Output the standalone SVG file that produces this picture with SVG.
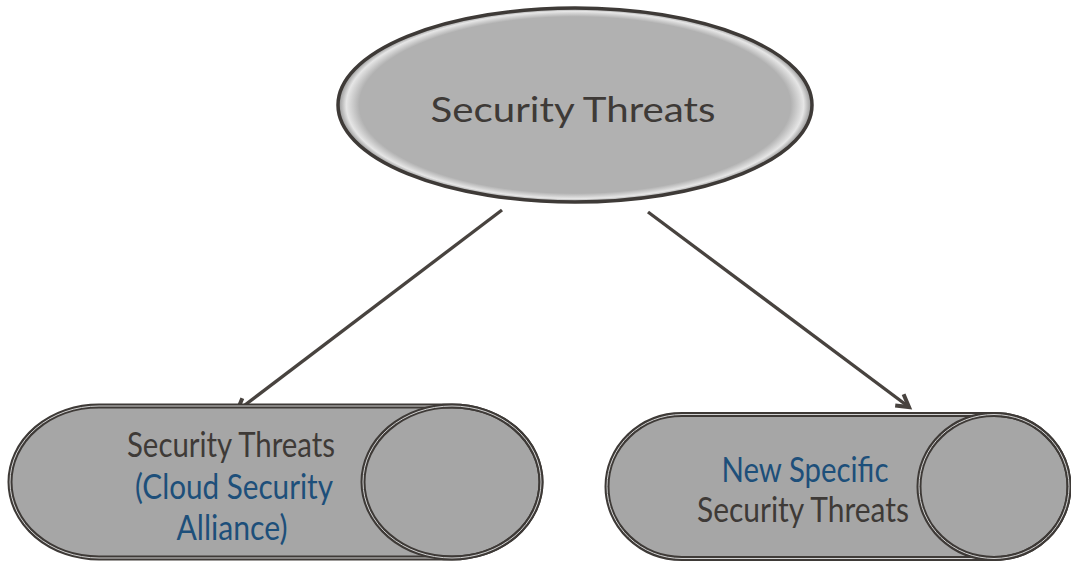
<svg xmlns="http://www.w3.org/2000/svg" width="1071" height="562" viewBox="0 0 1071 562">
  <style>
    .dark { fill: #3e3a37; }
    .blue { fill: #1d4f7a; }
    .t { font-family: Lato, "Open Sans", sans-serif; }
    .cond { font-family: Lato, "Liberation Sans", sans-serif; font-size: 35px; text-anchor: middle; }
    .outer { fill: none; stroke: #3e3a37; stroke-width: 5; }
    .inner { fill: none; stroke: #d2d2d2; stroke-width: 1; }
    .conn { fill: none; stroke: #48433f; stroke-width: 3.3; }
  </style>
  <defs>
    <radialGradient id="bevel" cx="0.5" cy="0.5" r="0.5">
      <stop offset="0" stop-color="#b1b1b1"/>
      <stop offset="0.91" stop-color="#b1b1b1"/>
      <stop offset="0.965" stop-color="#e6e6e6"/>
      <stop offset="1" stop-color="#8e8e8e"/>
    </radialGradient>
    <marker id="arr" markerWidth="20" markerHeight="20" refX="15" refY="10" orient="auto" markerUnits="userSpaceOnUse">
      <polyline points="3,3 15,10 3,17" fill="none" stroke="#48433f" stroke-width="4" stroke-linejoin="miter"/>
    </marker>
  </defs>
  <rect width="1071" height="562" fill="#ffffff"/>

  <g id="connectors">
    <line class="conn" x1="502" y1="210" x2="237" y2="411" marker-end="url(#arr)"/>
    <line class="conn" x1="648" y1="212" x2="909" y2="407" marker-end="url(#arr)"/>
  </g>

  <g id="node-top">
    <ellipse cx="575" cy="105" rx="237" ry="97" fill="url(#bevel)" stroke="#3e3a37" stroke-width="3.5"/>
    <text class="t dark" x="573" y="122" font-size="35" text-anchor="middle" textLength="285" lengthAdjust="spacingAndGlyphs">Security Threats</text>
  </g>

  <g id="node-left">
    <path d="M99,406 L452,406 A89,76 0 0 1 452,558 L99,558 A89,76 0 0 1 99,406 Z" fill="#a6a6a6"/>
    <path class="outer" d="M99,406 L452,406 A89,76 0 0 1 452,558 L99,558 A89,76 0 0 1 99,406 Z"/>
    <path class="inner" d="M99,406 L452,406 A89,76 0 0 1 452,558 L99,558 A89,76 0 0 1 99,406 Z"/>
    <ellipse class="outer" cx="452" cy="482" rx="89" ry="76"/>
    <ellipse class="inner" cx="452" cy="482" rx="89" ry="76"/>
    <text class="cond dark" x="231" y="457" textLength="208" lengthAdjust="spacingAndGlyphs">Security Threats</text>
    <text class="cond blue" x="234" y="499" textLength="198" lengthAdjust="spacingAndGlyphs">(Cloud Security</text>
    <text class="cond blue" x="232" y="540" textLength="111" lengthAdjust="spacingAndGlyphs">Alliance)</text>
  </g>

  <g id="node-right">
    <path d="M682,414.5 L994,414.5 A75,72 0 0 1 994,558.5 L682,558.5 A75,72 0 0 1 682,414.5 Z" fill="#a6a6a6"/>
    <path class="outer" d="M682,414.5 L994,414.5 A75,72 0 0 1 994,558.5 L682,558.5 A75,72 0 0 1 682,414.5 Z"/>
    <path class="inner" d="M682,414.5 L994,414.5 A75,72 0 0 1 994,558.5 L682,558.5 A75,72 0 0 1 682,414.5 Z"/>
    <ellipse class="outer" cx="994" cy="486.5" rx="75" ry="72"/>
    <ellipse class="inner" cx="994" cy="486.5" rx="75" ry="72"/>
    <text class="cond blue" x="805" y="482" textLength="167" lengthAdjust="spacingAndGlyphs">New Specific</text>
    <text class="cond dark" x="803" y="522" textLength="212" lengthAdjust="spacingAndGlyphs">Security Threats</text>
  </g>
</svg>
